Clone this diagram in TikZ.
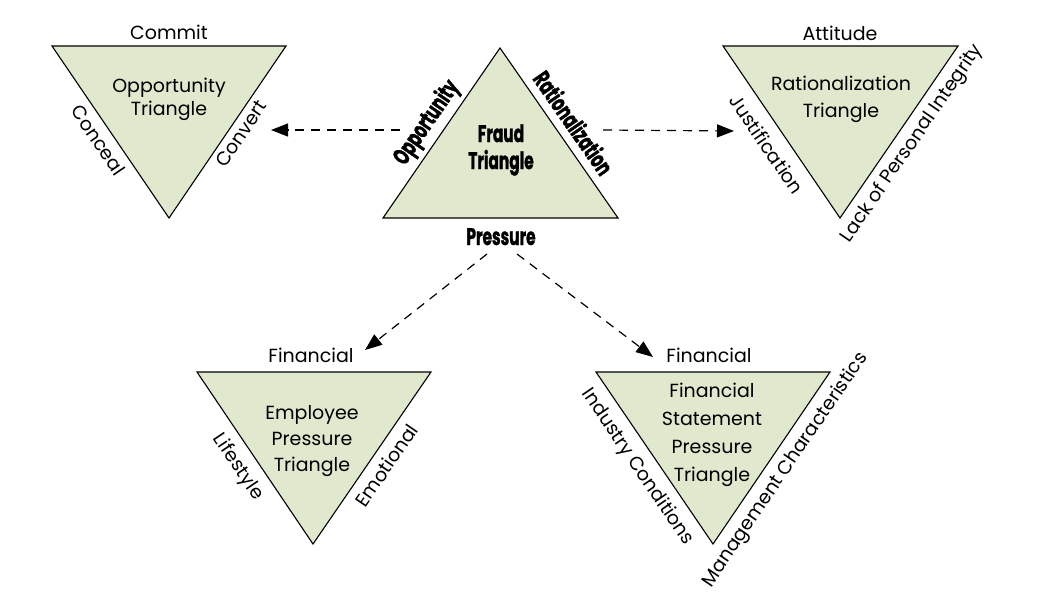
\documentclass[tikz,border=0pt]{standalone}
\usepackage{fontspec}
\setmainfont{Poppins}
\newfontfamily\condfont{Poppins}[FakeStretch=0.64, BoldFeatures={FakeBold=1.2}]
\usetikzlibrary{arrows.meta}
\definecolor{trigreen}{RGB}{224,233,206}

\begin{document}
\begin{tikzpicture}[x=1pt, y=-1pt,
  tri/.style={draw=black, fill=trigreen, line width=1.1pt, line join=miter},
  side/.style={sloped, font=\fontsize{19}{19}\selectfont, text height=14pt, text depth=5pt, inner sep=7pt, pos=0.5},
  head/.style={anchor=base, font=\fontsize{19}{19}\selectfont, inner sep=0pt},
  title/.style={align=center, font=\fontsize{19}{27}\selectfont, inner sep=0pt},
  bold/.style={font=\condfont\bfseries\fontsize{24}{27}\selectfont},
  link/.style={line width=1.2pt, dash pattern=on 9pt off 7pt, -{Triangle[length=17pt, width=13pt]}}]
\useasboundingbox (0,0) rectangle (1059,605);

% corners
\coordinate (opp-l) at (52,46);
\coordinate (opp-r) at (286,46);
\coordinate (opp-b) at (169,218);
\coordinate (fr-t) at (500,48);
\coordinate (fr-l) at (383,218);
\coordinate (fr-r) at (618,218);
\coordinate (rat-l) at (723,46);
\coordinate (rat-r) at (958,46);
\coordinate (rat-b) at (840,218);
\coordinate (emp-l) at (197,372);
\coordinate (emp-r) at (431,372);
\coordinate (emp-b) at (313,544);
\coordinate (fin-l) at (596,372);
\coordinate (fin-r) at (830,372);
\coordinate (fin-b) at (713,544);

\draw[tri] (opp-l) -- (opp-r) -- (opp-b) -- cycle;
\draw[tri] (fr-t) -- (fr-r) -- (fr-l) -- cycle;
\draw[tri] (rat-l) -- (rat-r) -- (rat-b) -- cycle;
\draw[tri] (emp-l) -- (emp-r) -- (emp-b) -- cycle;
\draw[tri] (fin-l) -- (fin-r) -- (fin-b) -- cycle;

% opportunity
\node[head] (commit) at (169,39) {Commit};
\node[title, font=\fontsize{19}{23}\selectfont] (opptitle) at (169,99) {Opportunity\\Triangle};
\path (opp-l) -- node[side, below, inner sep=7pt] (conceal) {Conceal} (opp-b);
\path (opp-b) -- node[side, below, pos=0.53, inner sep=4.5pt] (convert) {Convert} (opp-r);

% fraud
\node[bold, align=center, inner sep=0pt] (fraud) at (501,150) {Fraud\\Triangle};
\node[bold, anchor=base, inner sep=0pt] (pres) at (501,245) {Pressure};
\path (fr-l) -- node[side, bold, above, text height=18pt, text depth=6pt, inner sep=5pt] (frop) {Opportunity} (fr-t);
\path (fr-t) -- node[side, bold, above, text height=18pt, text depth=6pt, inner sep=2.5pt] (frrat) {Rationalization} (fr-r);

% rationalization
\node[head] (attitude) at (840,40) {Attitude};
\node[title] (rattitle) at (841,99) {Rationalization\\Triangle};
\path (rat-l) -- node[side, below, pos=0.51, inner sep=12pt] (just) {Justification} (rat-b);
\path (rat-b) -- node[side, below, pos=0.49, inner sep=8pt] (lack) {Lack of Personal Integrity} (rat-r);

% employee
\node[head] (empfin) at (311,362) {Financial};
\node[title, font=\fontsize{19}{26}\selectfont] (emptitle) at (312,441) {Employee\\Pressure\\Triangle};
\path (emp-l) -- node[side, below, pos=0.49, inner sep=10pt] (life) {Lifestyle} (emp-b);
\path (emp-b) -- node[side, below, pos=0.51, inner sep=9pt] (emot) {Emotional} (emp-r);

% financial statement
\node[head] (finfin) at (709,362) {Financial};
\node[title, font=\fontsize{19}{28}\selectfont] (fintitle) at (712,435) {Financial\\Statement\\Pressure\\Triangle};
\path (fin-l) -- node[side, below, pos=0.49, inner sep=10pt] (ind) {Industry Conditions} (fin-b);
\path (fin-b) -- node[side, below, pos=0.49, inner sep=9pt] (mgmt) {Management Characteristics} (fin-r);

% arrows
\coordinate (a1) at (400,130);
\coordinate (a1e) at (271,130);
\coordinate (a2) at (603,130);
\coordinate (a2e) at (734,131);
\coordinate (a3) at (487,254);
\coordinate (a3e) at (365,350);
\coordinate (a4) at (517,254);
\coordinate (a4e) at (653,357);
\draw[link] (a1) -- (a1e);
\draw[link] (a2) -- (a2e);
\draw[link] (a3) -- (a3e);
\draw[link] (a4) -- (a4e);
\end{tikzpicture}
\end{document}
